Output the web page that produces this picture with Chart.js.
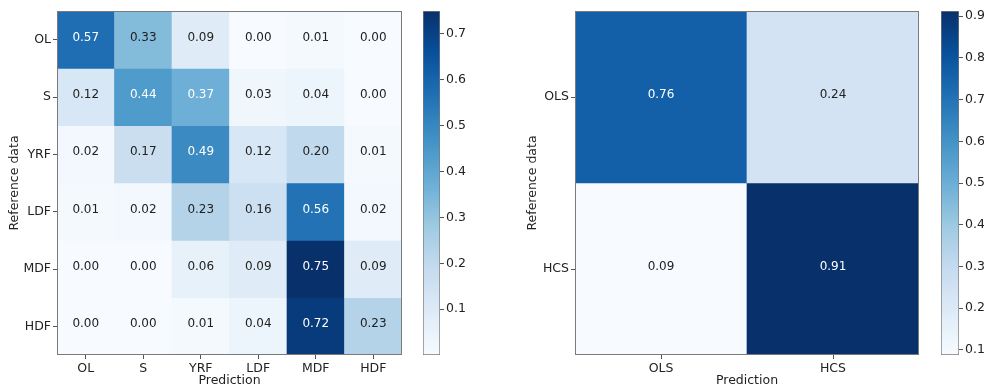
<!DOCTYPE html>
<html>
<head>
<meta charset="utf-8">
<script src="https://cdn.jsdelivr.net/npm/chart.js@4.4.1/dist/chart.umd.min.js"></script>
<style>
  html, body { margin: 0; padding: 0; background: #fff; width: 984px; height: 387px; overflow: hidden; }
  canvas { position: absolute; top: 0; }
</style>
</head>
<body>
<canvas id="cmLeft" width="420" height="387" style="left:0px"></canvas>
<canvas id="cbLeft" width="70" height="387" style="left:413px"></canvas>
<canvas id="cmRight" width="460" height="387" style="left:480px"></canvas>
<canvas id="cbRight" width="53" height="387" style="left:931px"></canvas>
<script>
// data
const classesA = ['OL', 'S', 'YRF', 'LDF', 'MDF', 'HDF'];
const matrixA = [
  [0.57, 0.33, 0.09, 0.00, 0.01, 0.00],
  [0.12, 0.44, 0.37, 0.03, 0.04, 0.00],
  [0.02, 0.17, 0.49, 0.12, 0.20, 0.01],
  [0.01, 0.02, 0.23, 0.16, 0.56, 0.02],
  [0.00, 0.00, 0.06, 0.09, 0.75, 0.09],
  [0.00, 0.00, 0.01, 0.04, 0.72, 0.23]
];
const rangeA = [0.0, 0.75];
const cbTicksA = [0.1, 0.2, 0.3, 0.4, 0.5, 0.6, 0.7];

const classesB = ['OLS', 'HCS'];
const matrixB = [
  [0.76, 0.24],
  [0.09, 0.91]
];
const rangeB = [0.088, 0.912];
const cbTicksB = [0.1, 0.2, 0.3, 0.4, 0.5, 0.6, 0.7, 0.8, 0.9];

const xTitle = 'Prediction';
const yTitle = 'Reference data';

// matplotlib "Blues"
const BLUES = ['#f7fbff', '#deebf7', '#c6dbef', '#9ecae1', '#6baed6', '#4292c6', '#2171b5', '#08519c', '#08306b'];
function hexRgb(h){ return [1,3,5].map(i => parseInt(h.substr(i, 2), 16)); }
function blues(t){
  t = Math.max(0, Math.min(1, t));
  const p = t * (BLUES.length - 1);
  const i = Math.min(BLUES.length - 2, Math.floor(p));
  const f = p - i;
  const a = hexRgb(BLUES[i]), b = hexRgb(BLUES[i + 1]);
  const c = a.map((v, k) => Math.round(v + (b[k] - v) * f));
  return `rgb(${c[0]},${c[1]},${c[2]})`;
}
function lum(t){
  const m = blues(t).match(/\d+/g).map(v => {
    v = v / 255;
    return v <= 0.03928 ? v / 12.92 : Math.pow((v + 0.055) / 1.055, 2.4);
  });
  return 0.2126 * m[0] + 0.7152 * m[1] + 0.0722 * m[2];
}

const FONT = 'DejaVu Sans';
const TXT = '#222';
const EDGE = '#7a7a7a';

const framePlugin = {
  id: 'frame',
  afterDraw(chart){
    const {ctx, chartArea: a} = chart;
    ctx.save();
    ctx.strokeStyle = EDGE;
    ctx.lineWidth = 1;
    ctx.strokeRect(Math.round(a.left) + 0.5, Math.round(a.top) + 0.5,
      Math.round(a.right - a.left) - 1, Math.round(a.bottom - a.top) - 1);
    ctx.restore();
  }
};

const annotatePlugin = {
  id: 'annotate',
  afterDatasetsDraw(chart){
    const {ctx} = chart;
    ctx.save();
    ctx.font = `12px "${FONT}"`;
    ctx.textAlign = 'center';
    ctx.textBaseline = 'alphabetic';
    chart.data.datasets.forEach((ds, i) => {
      chart.getDatasetMeta(i).data.forEach((bar, j) => {
        const v = ds.values[j];
        ctx.fillStyle = ds.textColors[j];
        ctx.fillText(v.toFixed(2), bar.x, (bar.y + bar.base) / 2 + 1);
      });
    });
    ctx.restore();
  }
};

function heatmap(id, classes, matrix, range, padL, padR){
  const [lo, hi] = range;
  const norm = v => (v - lo) / (hi - lo);
  return new Chart(document.getElementById(id), {
    type: 'bar',
    data: {
      labels: classes,
      datasets: matrix.map((row, r) => ({
        label: classes[r],
        data: row.map(() => 1),
        values: row,
        backgroundColor: row.map(v => blues(norm(v))),
        textColors: row.map(v => lum(norm(v)) < 0.408 ? '#ffffff' : TXT),
        borderWidth: 0,
        barPercentage: 1,
        categoryPercentage: 1,
        stack: 'cm'
      }))
    },
    options: {
      responsive: false,
      animation: false,
      events: [],
      layout: { padding: { left: padL, right: padR, top: 11, bottom: 0 } },
      plugins: { legend: { display: false }, tooltip: { enabled: false } },
      scales: {
        x: {
          type: 'category',
          stacked: true,
          afterFit: s => { s.height = 32; },
          grid: { offset: false, drawOnChartArea: false, drawTicks: true, tickLength: 4, color: '#555' },
          border: { display: false },
          ticks: { color: TXT, font: { family: FONT, size: 12.5 }, padding: 2, maxRotation: 0 },
          title: { display: true, text: xTitle, color: TXT, font: { family: FONT, size: 12.5, lineHeight: 1 }, padding: { top: 0, bottom: 0 } }
        },
        y: {
          type: 'linear',
          stacked: true,
          reverse: true,
          min: 0,
          max: classes.length,
          afterFit: s => { s.width = 57; },
          afterBuildTicks: s => { s.ticks = classes.map((c, i) => ({ value: i + 0.5 })); },
          grid: { drawOnChartArea: false, drawTicks: true, tickLength: 4, color: '#555' },
          border: { display: false },
          ticks: { autoSkip: false, color: TXT, font: { family: FONT, size: 12.5 }, padding: 2, callback: (v, i) => classes[i] },
          title: { display: true, text: yTitle, color: TXT, font: { family: FONT, size: 12.5, lineHeight: 1.2 }, padding: { top: 7, bottom: 0 } }
        }
      }
    },
    plugins: [annotatePlugin, framePlugin]
  });
}

function colorbar(id, range, ticks, padL, axisW){
  const [lo, hi] = range;
  return new Chart(document.getElementById(id), {
    type: 'bar',
    data: {
      labels: [''],
      datasets: [{
        data: [[lo, hi]],
        backgroundColor: ctx => {
          const a = ctx.chart.chartArea;
          if (!a) return null;
          const g = ctx.chart.ctx.createLinearGradient(0, a.bottom, 0, a.top);
          BLUES.forEach((c, i) => g.addColorStop(i / (BLUES.length - 1), c));
          return g;
        },
        borderColor: EDGE,
        borderWidth: 1,
        borderSkipped: false,
        barPercentage: 1,
        categoryPercentage: 1
      }]
    },
    options: {
      responsive: false,
      animation: false,
      events: [],
      layout: { padding: { left: padL, right: 0, top: 11, bottom: 32 } },
      plugins: { legend: { display: false }, tooltip: { enabled: false } },
      scales: {
        x: { display: false },
        y: {
          position: 'right',
          min: lo,
          max: hi,
          afterFit: s => { s.width = axisW; },
          afterBuildTicks: s => { s.ticks = ticks.map(v => ({ value: v })); },
          grid: { drawOnChartArea: false, drawTicks: true, tickLength: 4, color: '#555' },
          border: { display: false },
          ticks: { color: TXT, font: { family: FONT, size: 12.5 }, padding: 2, callback: v => v.toFixed(1) }
        }
      }
    }
  });
}

heatmap('cmLeft', classesA, matrixA, rangeA, 0, 18);
colorbar('cbLeft', rangeA, cbTicksA, 10, 43);
heatmap('cmRight', classesB, matrixB, rangeB, 38, 21);
colorbar('cbRight', rangeB, cbTicksB, 10, 25);
</script>
</body>
</html>
